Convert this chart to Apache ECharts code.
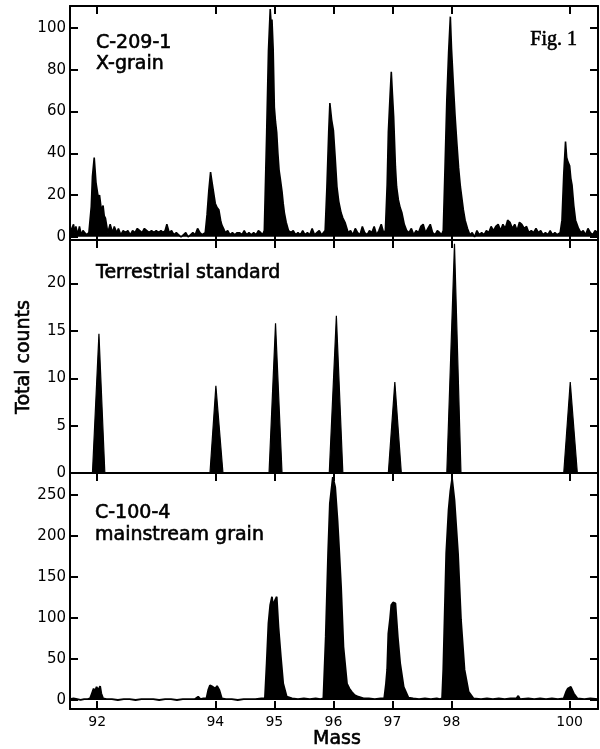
<!DOCTYPE html>
<html>
<head>
<meta charset="utf-8">
<script src="https://cdn.jsdelivr.net/npm/echarts@6/dist/echarts.min.js"></script>
<style>
html,body{margin:0;padding:0;background:#fff;}
#chart{width:600px;height:749px;}
</style>
</head>
<body>
<div id="chart"></div>
<script>
// ---- data (mass, total counts) ----
const massTicks = [92, 94, 95, 96, 97, 98, 100];
const yTicksX = [0, 20, 40, 60, 80, 100];
const yTicksT = [0, 5, 10, 15, 20];
const yTicksM = [0, 50, 100, 150, 200, 250];

const panelLabels = ['C-209-1', 'X-grain', 'Terrestrial standard', 'C-100-4', 'mainstream grain'];

// C-209-1 X-grain spectrum
const xGrain = [
[91.54,2],[91.57,4],[91.60,6],[91.62,2],[91.64,5],[91.67,1],[91.70,5],[91.73,1],[91.76,3],[91.79,2],[91.82,1],
[91.86,2],[91.90,14.5],[91.92,29],[91.95,38],[91.98,26],[92.02,18.5],[92.04,20],[92.07,13],[92.10,15],[92.12,10],[92.14,9],[92.18,2],
[92.22,6],[92.26,2],[92.29,5],[92.33,2],[92.36,4],[92.40,1],[92.44,3],[92.48,2],[92.52,3],[92.56,1],[92.60,3],[92.64,2],[92.68,4],[92.72,3],[92.76,2],[92.80,4],[92.84,3],[92.88,2],[92.92,3],[92.96,2],[93.00,3],[93.04,2],[93.08,3],[93.12,2],[93.15,3],[93.18,6],[93.22,2],[93.26,3],[93.30,1],[93.34,2],[93.38,1],[93.42,0],[93.46,1],[93.50,2],[93.54,0],[93.58,1],[93.62,2],[93.66,1],[93.70,4],[93.74,2],[93.78,1],
[93.83,2],[93.86,10.5],[93.89,22],[93.92,31],[93.94,27],[93.97,26.5],[94.00,16],[94.03,14],[94.06,13],[94.09,8],[94.11,5.7],[94.14,4],[94.17,2],
[94.21,3],[94.25,1],[94.29,2],[94.33,1],[94.37,2],[94.41,2],[94.45,1],[94.49,3],[94.53,1],[94.57,2],[94.61,1],[94.65,2],[94.69,1],[94.73,3],[94.77,2],[94.80,1],
[94.83,3],[94.87,50],[94.90,89],[94.93,109],[94.95,100],[94.96,104],[94.98,90],[95.00,62],[95.02,55],[95.04,50],[95.06,40],[95.08,32],[95.10,28],[95.13,21.7],[95.15,16],[95.17,11.5],[95.20,7],[95.24,3],
[95.28,2],[95.32,3],[95.36,1],[95.40,2],[95.44,1],[95.48,3],[95.52,1],[95.56,2],[95.60,1],[95.64,4],[95.68,1],[95.72,2],[95.76,3],[95.80,1],[95.83,2],
[95.86,3],[95.89,24],[95.92,50],[95.94,64],[95.97,56],[96.00,51],[96.03,38],[96.06,24],[96.09,17],[96.13,11.5],[96.16,9],[96.20,6.7],[96.25,2],
[96.29,3],[96.33,1],[96.37,4],[96.41,2],[96.45,1],[96.49,5],[96.53,2],[96.57,1],[96.61,3],[96.65,2],[96.69,5],[96.73,1],[96.77,3],[96.81,6],[96.85,2],
[96.88,3],[96.91,25],[96.93,50],[96.96,68],[96.98,79],[97.00,68],[97.02,57.6],[97.05,33.6],[97.07,24],[97.10,17.7],[97.13,14],[97.16,11.5],[97.20,6],[97.24,3],
[97.28,2],[97.32,4],[97.36,1],[97.40,3],[97.44,2],[97.48,5],[97.52,6],[97.56,2],[97.60,4],[97.64,6],[97.68,2],[97.72,1],[97.76,3],[97.80,2],[97.83,1],
[97.86,3],[97.89,33.6],[97.92,65.5],[97.95,88],[97.98,105.4],[98.00,90],[98.03,73.5],[98.06,58],[98.09,45],[98.12,33],[98.15,24],[98.20,13],[98.23,8],[98.27,4],
[98.31,1],[98.35,2],[98.39,0],[98.43,3],[98.47,1],[98.51,2],[98.55,1],[98.59,3],[98.63,2],[98.67,5],[98.71,3],[98.75,5],[98.79,6],[98.83,3],[98.87,6],[98.91,4],[98.95,8],[98.99,7],[99.03,4],[99.07,6],[99.11,3],[99.15,7],[99.19,6],[99.23,4],[99.27,5],[99.31,2],[99.35,3],[99.39,2],[99.43,4],[99.47,2],[99.51,3],[99.55,1],[99.59,2],[99.63,1],[99.67,3],[99.71,1],[99.75,2],[99.79,1],
[99.84,2],[99.87,8],[99.90,30],[99.93,45.6],[99.95,38],[99.97,36],[100.00,34],[100.02,28],[100.04,24.9],[100.07,15],[100.10,8],[100.15,4],
[100.19,2],[100.23,3],[100.27,1],[100.31,4],[100.35,2],[100.39,1],[100.43,3],[100.48,2]
];

// Terrestrial standard spectrum
const terrestrial = [
[91.54,0],[91.92,0],[92.03,14.7],[92.13,0],[93.91,0],[94.01,9.2],[94.13,0],
[94.91,0],[95.02,15.8],[95.13,0],[95.93,0],[96.05,16.6],[96.16,0],
[96.93,0],[97.04,9.6],[97.15,0],[97.92,0],[98.05,24.2],[98.16,0],
[99.90,0],[100.01,9.6],[100.13,0],[100.48,0]
];

// C-100-4 mainstream grain spectrum
const mainstream = [
[91.54,1],[91.60,2],[91.66,1],[91.72,0],[91.78,1],[91.84,1],
[91.88,2],[91.91,8],[91.94,14],[91.96,10],[91.99,16],[92.02,12],[92.05,17],[92.07,8],[92.10,2],
[92.16,1],[92.25,1],[92.35,0],[92.45,1],[92.55,1],[92.65,0],[92.75,1],[92.85,1],[92.95,1],[93.05,0],[93.15,1],[93.25,1],[93.35,0],[93.45,1],[93.55,1],[93.65,1],[93.71,4],[93.75,1],[93.80,2],
[93.85,2],[93.88,12],[93.91,18],[93.96,16],[94.00,14],[94.03,17],[94.07,12],[94.11,2],
[94.18,1],[94.28,1],[94.38,0],[94.48,1],[94.58,1],[94.68,1],[94.78,2],
[94.84,2],[94.87,45],[94.90,93.5],[94.93,116],[94.96,126],[94.98,112],[95.00,120],[95.02,122],[95.04,126],[95.07,89],[95.11,53],[95.15,20],[95.21,4],
[95.30,2],[95.40,1],[95.50,2],[95.60,1],[95.70,2],[95.78,1],
[95.83,2],[95.87,77],[95.91,179],[95.94,240],[95.99,272],[96.01,266],[96.03,260],[96.07,219],[96.10,180],[96.13,138],[96.17,65],[96.23,20],[96.27,14],[96.31,10],[96.36,6],[96.42,4],[96.51,2],
[96.60,2],[96.70,1],[96.80,2],
[96.86,2],[96.89,20],[96.91,37],[96.93,81],[96.96,100],[96.98,116],[97.01,119],[97.05,118],[97.09,77],[97.13,45],[97.19,16],[97.27,3],
[97.35,2],[97.45,1],[97.55,2],[97.65,1],[97.75,2],[97.80,1],
[97.84,2],[97.86,37],[97.91,179],[97.95,232],[97.98,255],[98.01,270],[98.05,244],[98.11,179],[98.16,98],[98.22,37],[98.29,10],[98.37,2],
[98.50,1],[98.60,2],[98.70,1],[98.80,2],[98.90,1],[99.00,2],[99.10,2],[99.13,5],[99.16,1],[99.30,2],[99.40,1],[99.50,2],[99.60,1],[99.70,2],[99.80,1],
[99.90,2],[99.94,10],[99.97,14],[100.00,12],[100.02,16],[100.04,15],[100.07,8],[100.13,2],
[100.25,1],[100.35,2],[100.48,1]
];

// ---- chart ----
const X_MIN = 91.54, X_MAX = 100.48;
const FONT = 'DejaVu Sans';
const grids = [
  {left: 70, width: 528, top: 6, height: 234},
  {left: 70, width: 528, top: 240, height: 233},
  {left: 70, width: 528, top: 473, height: 236}
];
const yRanges = [[-1.5, 110.5, yTicksX], [0, 24.6, yTicksT], [-11, 277, yTicksM]];

function xAx(gi, pos, showLabel) {
  return {
    type: 'value', gridIndex: gi, position: pos, min: X_MIN, max: X_MAX,
    splitLine: {show: false},
    axisLine: {show: true, onZero: false, lineStyle: {color: '#000', width: 2}},
    axisTick: {show: true, inside: true, length: 8, customValues: massTicks, lineStyle: {color: '#000', width: 2}},
    axisLabel: {show: showLabel, customValues: massTicks, color: '#000', fontFamily: FONT, fontSize: 14, margin: 6}
  };
}
function yAx(gi, pos, showLabel) {
  const r = yRanges[gi];
  return {
    type: 'value', gridIndex: gi, position: pos, min: r[0], max: r[1],
    splitLine: {show: false},
    axisLine: {show: true, onZero: false, lineStyle: {color: '#000', width: 2}},
    axisTick: {show: true, inside: true, length: 8, customValues: r[2], lineStyle: {color: '#000', width: 2}},
    axisLabel: {show: showLabel, customValues: r[2], color: '#000', fontFamily: FONT, fontSize: 15, margin: 4}
  };
}

const xAxes = [], yAxes = [];
for (let i = 0; i < 3; i++) {
  xAxes.push(xAx(i, 'bottom', i === 2));
  xAxes.push(xAx(i, 'top', false));
  yAxes.push(yAx(i, 'left', true));
  yAxes.push(yAx(i, 'right', false));
}

function spec(data, i, w) {
  return {
    type: 'line', data: data, xAxisIndex: 2 * i, yAxisIndex: 2 * i,
    symbol: 'none', showSymbol: false, silent: true,
    lineStyle: {color: '#000', width: w},
    areaStyle: {color: '#000', opacity: 1}
  };
}

const LABEL_FONT = '19px "DejaVu Sans"';
function txt(s, x, y, opts) {
  return {
    type: 'text', x: x, y: y,
    style: Object.assign({text: s, fill: '#000', stroke: '#000', lineWidth: 0.6, font: LABEL_FONT, textAlign: 'left', textVerticalAlign: 'middle'}, opts || {})
  };
}

const chart = echarts.init(document.getElementById('chart'), null, {renderer: 'canvas'});
chart.setOption({
  animation: false,
  backgroundColor: '#fff',
  grid: grids,
  xAxis: xAxes,
  yAxis: yAxes,
  series: [spec(xGrain, 0, 1.6), spec(terrestrial, 1, 1.2), spec(mainstream, 2, 1.8)],
  graphic: [
    txt(panelLabels[0], 96, 43),
    txt(panelLabels[1], 96, 64),
    txt(panelLabels[2], 96, 273),
    txt(panelLabels[3], 95, 513),
    txt(panelLabels[4], 95, 535),
    txt('Fig. 1', 577, 40, {font: '20px "Liberation Serif"', textAlign: 'right'}),
    txt('Mass', 337, 739, {textAlign: 'center'}),
    {type: 'text', x: 24, y: 357, rotation: Math.PI / 2,
     style: {text: 'Total counts', fill: '#000', stroke: '#000', lineWidth: 0.6, font: LABEL_FONT, textAlign: 'center', textVerticalAlign: 'middle'}}
  ]
});
</script>
</body>
</html>
